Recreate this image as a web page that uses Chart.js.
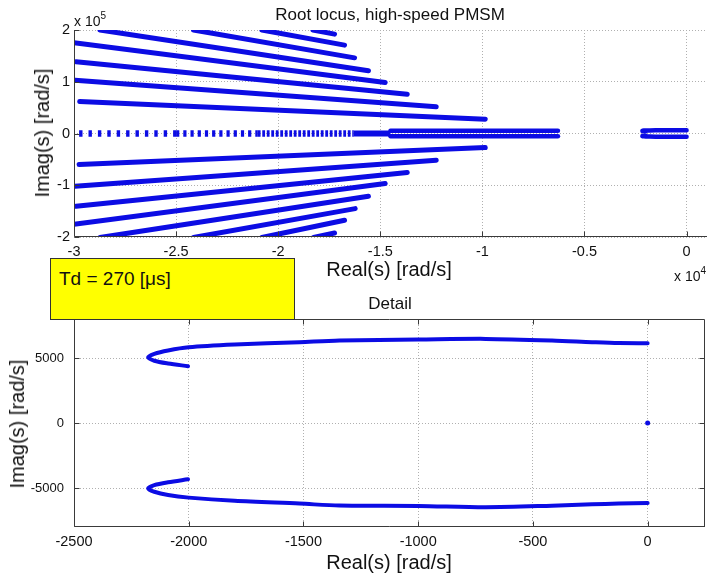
<!DOCTYPE html>
<html>
<head>
<meta charset="utf-8">
<title>Root locus, high-speed PMSM</title>
<script src="https://cdn.jsdelivr.net/npm/chart.js@4"></script>
<style>
	body { margin: 0; background: #fff; font-family: 'Liberation Sans', Arial, Helvetica, sans-serif; color: #111; }
	#page { position: relative; width: 707px; height: 574px; overflow: hidden; }
	canvas { position: absolute; left: 0; }
	#topChart { top: 0; }
	#detailChart { top: 290px; }
	.txt { position: absolute; white-space: nowrap; line-height: 1; }
	.center { transform: translate(-50%, -50%); }
	.vert { transform: translate(-50%, -50%) rotate(-90deg); }
	sup { font-size: 10px; vertical-align: 7px; }
	#tdBox { position: absolute; left: 50px; top: 258px; width: 243px; height: 60px; background: #ffff00; border: 1px solid #333; }
	#tdBox span { position: absolute; left: 8px; top: 9px; font-size: 19px; }
</style>
</head>
<body>
<div id="page">
	<canvas id="topChart" width="707" height="290"></canvas>
	<canvas id="detailChart" width="707" height="284"></canvas>

	<div class="txt center" style="left:390px; top:14px; font-size:17px;">Root locus, high-speed PMSM</div>
	<div class="txt" style="left:74px; top:11px; font-size:14px;">x 10<sup>5</sup></div>
	<div class="txt vert" style="left:42px; top:133px; font-size:20px;">Imag(s) [rad/s]</div>
	<div class="txt center" style="left:389px; top:269px; font-size:20px;">Real(s) [rad/s]</div>
	<div class="txt" style="left:674px; top:266px; font-size:14px;">x 10<sup>4</sup></div>

	<div id="tdBox"><span>Td = 270 [μs]</span></div>

	<div class="txt center" style="left:390px; top:303px; font-size:17px;">Detail</div>
	<div class="txt vert" style="left:17px; top:424px; font-size:20px;">Imag(s) [rad/s]</div>
	<div class="txt center" style="left:389px; top:562px; font-size:20px;">Real(s) [rad/s]</div>
</div>

<script>
/************  DATA  ************/
// Main plot, rad/s. One straight branch per entry, upper half-plane
const upperStartRe = [-18300, -20800, -24150, -28730, -30000, -29900, -29950, -29720];
const upperStartIm = [200000, 200000, 200000, 200000, 175200, 138500, 103100, 61900];
const upperEndRe = [-17240, -16750, -16260, -15580, -14760, -13680, -12260, -9860];
const upperEndIm = [192000, 170800, 146200, 121100, 98600, 76000, 51500, 27700];

// lower half-plane
const lowerStartRe = [-18270, -20800, -24150, -28730, -30000, -29900, -29950, -29750];
const lowerStartIm = [-201000, -201000, -201000, -201000, -175400, -140600, -101900, -60000];
const lowerEndRe = [-17240, -16750, -16230, -15580, -14760, -13680, -12260, -9860];
const lowerEndIm = [-192300, -167700, -145100, -121300, -96700, -75400, -51600, -27100];

// real axis: dotted run (three densities), merged run, then a close pair
const realDotRe = [-29750, -25000, -21000, -16300];
const realMergedRe = [-16300, -14500];
const pairRe = [-14500, -6300];
const pairIm = [5500, -5500];

// slow branches near the origin (also shown in the detail plot)
const slowUpperRe = [-2003, -2090, -2150, -2177, -2150, -2090, -2000, -1800, -1517, -1343, -1000, -706, -417, -242, -126, 0];
const slowUpperIm = [4370, 4580, 4790, 5050, 5320, 5580, 5820, 6030, 6220, 6350, 6420, 6470, 6350, 6220, 6150, 6140];
const slowLowerRe = [-2003, -2090, -2150, -2177, -2150, -2090, -2000, -1800, -1517, -1343, -1000, -706, -417, -242, -126, 0];
const slowLowerIm = [-4330, -4560, -4780, -5030, -5290, -5540, -5740, -5990, -6200, -6350, -6380, -6480, -6360, -6250, -6200, -6150];
const originRe = [0];
const originIm = [0];

// ticks
const topXTicks = [-30000, -25000, -20000, -15000, -10000, -5000, 0];
const topXTickLabels = ['-3', '-2.5', '-2', '-1.5', '-1', '-0.5', '0'];
const topYTicks = [-200000, -100000, 0, 100000, 200000];
const topYTickLabels = ['-2', '-1', '0', '1', '2'];
const detailXTicks = [-2500, -2000, -1500, -1000, -500, 0];
const detailYTicks = [-5000, 0, 5000];

/************  HELPERS  ************/
const BLUE = 'rgb(12,12,228)';
const GRID = '#b0b0b0';
Chart.defaults.font.family = "'Liberation Sans', Arial, Helvetica, sans-serif";
Chart.defaults.color = '#111';

function trace(xs, ys, width, extra) {
	return Object.assign({
		data: xs.map((v, i) => ({ x: v, y: ys[i] })),
		showLine: true,
		borderColor: BLUE,
		backgroundColor: BLUE,
		borderWidth: width,
		borderCapStyle: 'round',
		borderJoinStyle: 'round',
		pointRadius: 0,
		clip: 0,
	}, extra || {});
}

// axis lines and inward tick marks, matlab style
const axesBox = {
	id: 'axesBox',
	afterDraw(chart, args, opts) {
		const { ctx, chartArea: a, scales } = chart;
		const L = a.left + 0.5, B = a.bottom - 0.5, R = a.right - 0.5, T = a.top + 0.5;
		ctx.save();
		ctx.strokeStyle = '#3a3a3a';
		ctx.lineWidth = 1;
		ctx.beginPath();
		ctx.moveTo(L, T - 0.5);
		ctx.lineTo(L, B);
		ctx.lineTo(a.right, B);
		if (opts.box) {
			ctx.moveTo(R, B);
			ctx.lineTo(R, T);
			ctx.lineTo(L, T);
		}
		scales.x.ticks.forEach(t => {
			const px = Math.round(scales.x.getPixelForValue(t.value)) + 0.5;
			ctx.moveTo(px, B);
			ctx.lineTo(px, B - 5);
			if (opts.box) { ctx.moveTo(px, T); ctx.lineTo(px, T + 5); }
		});
		scales.y.ticks.forEach(t => {
			const py = Math.round(scales.y.getPixelForValue(t.value)) + 0.5;
			ctx.moveTo(L, py);
			ctx.lineTo(L + 5, py);
			if (opts.box) { ctx.moveTo(R, py); ctx.lineTo(R - 5, py); }
		});
		ctx.stroke();
		ctx.restore();
	},
};

// fixed-size axis boxes so the plot areas land where they should
function axis(min, max, tickValues, tickLabels, boxSize, horizontal, fontSize, pad) {
	return {
		type: 'linear',
		min: min,
		max: max,
		afterFit: s => { if (horizontal) s.height = boxSize; else s.width = boxSize; },
		afterBuildTicks: s => { s.ticks = tickValues.map(v => ({ value: v })); },
		ticks: {
			autoSkip: false,
			maxRotation: 0,
			padding: pad,
			font: { size: fontSize },
			color: '#111',
			callback: (v, i) => tickLabels[i],
		},
		grid: { color: GRID, lineWidth: 1, drawTicks: false },
		border: { display: false, dash: [1, 2] },
	};
}

/************  MAIN PLOT  ************/
const topSets = [];
for (let i = 0; i < upperStartRe.length; i++) {
	topSets.push(trace([upperStartRe[i], upperEndRe[i]], [upperStartIm[i], upperEndIm[i]], 5));
	topSets.push(trace([lowerStartRe[i], lowerEndRe[i]], [lowerStartIm[i], lowerEndIm[i]], 5));
}
const dotDash = [[3.4, 6], [3.2, 4], [2.8, 1.7]];
for (let i = 0; i < realDotRe.length - 1; i++) {
	topSets.push(trace([realDotRe[i], realDotRe[i + 1]], [0, 0], 6.5, { borderCapStyle: 'butt', borderDash: dotDash[i] }));
}
topSets.push(trace(realMergedRe, [0, 0], 6, { borderCapStyle: 'butt' }));
pairIm.forEach(im => topSets.push(trace(pairRe, [im, im], 4.5)));
topSets.push(trace(slowUpperRe, slowUpperIm, 4.5));
topSets.push(trace(slowLowerRe, slowLowerIm, 4.5));

new Chart(document.getElementById('topChart'), {
	type: 'scatter',
	data: { datasets: topSets },
	options: {
		responsive: false,
		animation: false,
		events: [],
		layout: { autoPadding: false, padding: { left: 0, top: 30, right: 0, bottom: 0 } },
		plugins: { legend: { display: false }, tooltip: { enabled: false }, axesBox: { box: false } },
		scales: {
			x: axis(-30000, 1000, topXTicks, topXTickLabels, 53, true, 14.5, 6),
			y: axis(-200000, 200000, topYTicks, topYTickLabels, 74, false, 14.5, 4),
		},
	},
	plugins: [axesBox],
});

/************  DETAIL PLOT  ************/
new Chart(document.getElementById('detailChart'), {
	type: 'scatter',
	data: {
		datasets: [
			trace(slowUpperRe, slowUpperIm, 4, { tension: 0.3 }),
			trace(slowLowerRe, slowLowerIm, 4, { tension: 0.3 }),
			trace(originRe, originIm, 0, { showLine: false, pointRadius: 2.5, pointBorderWidth: 0 }),
		],
	},
	options: {
		responsive: false,
		animation: false,
		events: [],
		layout: { autoPadding: false, padding: { left: 0, top: 29, right: 2, bottom: 0 } },
		plugins: { legend: { display: false }, tooltip: { enabled: false }, axesBox: { box: true } },
		scales: {
			x: axis(-2500, 250, detailXTicks, detailXTicks.map(String), 47, true, 14.5, 6),
			y: axis(-8000, 8000, detailYTicks, detailYTicks.map(String), 74, false, 13, 10),
		},
	},
	plugins: [axesBox],
});
</script>
</body>
</html>
